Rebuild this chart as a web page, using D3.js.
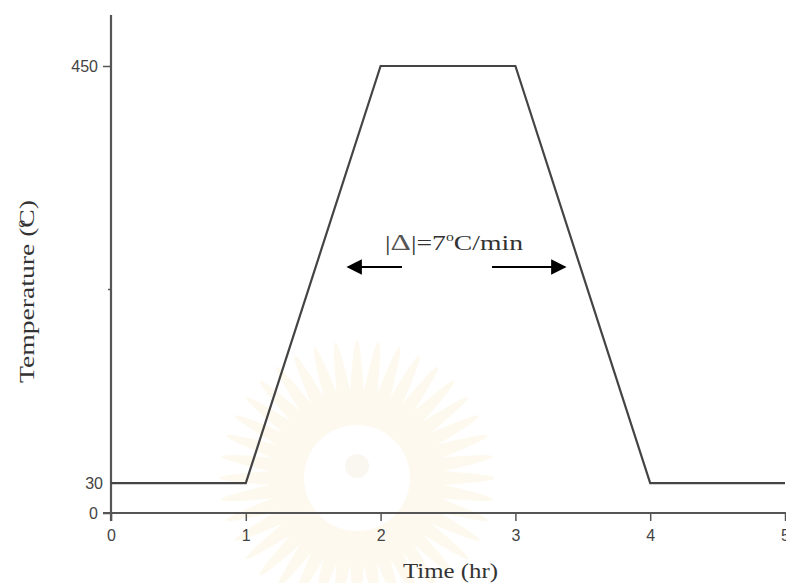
<!DOCTYPE html>
<html>
<head>
<meta charset="utf-8">
<script src="https://cdn.jsdelivr.net/npm/d3@7/dist/d3.min.js"></script>
<style>
  body { margin: 0; background: #fff; }
  svg { display: block; }
</style>
</head>
<body>
<svg id="chart" width="786" height="583"></svg>
<script>
// profile of the heat treatment
const timeHr = [0, 1, 2, 3, 4, 5]
const tempC  = [30, 30, 450, 450, 30, 30]
const xTicks = [0, 1, 2, 3, 4, 5]
const yTickLabels = [0, 30, 450]
const yMinorTicks = [225]

const svg = d3.select("#chart")

// x: 0 -> 111px, 5 -> 785px ; y: 0 -> 513px, 450 -> 66px
const x = d3.scaleLinear().domain([0, 5]).range([111, 785])
const y = d3.scaleLinear().domain([0, 450]).range([513, 66])

// faint watermark behind everything (sunburst)
const wm = svg.append("g").attr("transform", "translate(357,478)")
d3.range(0, 360, 9).forEach(a => {
  wm.append("path")
    .attr("d", "M-9,-50 Q0,-225 9,-50 Z")
    .attr("fill", "#fdf9ee")
    .attr("transform", `rotate(${a})`)
})
wm.append("circle").attr("r", 53).attr("fill", "#fff")
wm.append("circle").attr("cy", -12).attr("r", 12).attr("fill", "#faf7f0")

const axisCol = "#555"
const sans = "Liberation Sans, Arial, sans-serif"
const serif = "Liberation Serif, Times New Roman, serif"

// axes
const xAxis = svg.append("g").attr("transform", `translate(0,${y(0)})`)
  .call(d3.axisBottom(x).tickValues(xTicks).tickSize(8).tickPadding(9).tickFormat(d3.format("d")))
xAxis.select(".domain").attr("d", `M${x(0) - 8},0H786`)

const yAxis = svg.append("g").attr("transform", `translate(${x(0)},0)`)
  .call(d3.axisLeft(y).tickValues(yTickLabels).tickSize(8).tickPadding(5).tickFormat(d3.format("d")))
yAxis.select(".domain").attr("d", `M0,${y(0) + 8}V15`)
yAxis.selectAll(".tick").filter(d => d === 30).select("line").remove()
yAxis.selectAll(".tick").filter(d => d === 30).select("text").attr("x", -8)

yAxis.selectAll(".minor").data(yMinorTicks).join("line")
  .attr("x1", -3).attr("x2", 0).attr("y1", d => y(d)).attr("y2", d => y(d))
  .attr("stroke", axisCol).attr("stroke-width", 1.5)

svg.selectAll(".domain").attr("stroke", axisCol).attr("stroke-width", 2.2)
svg.selectAll(".tick line").attr("stroke", axisCol).attr("stroke-width", 1.5)
svg.selectAll(".tick text")
  .attr("font-family", sans)
  .attr("font-size", 16).attr("fill", "#444")

// profile line
svg.append("path")
  .datum(d3.zip(timeHr, tempC))
  .attr("d", d3.line().x(d => x(d[0])).y(d => y(d[1])))
  .attr("fill", "none").attr("stroke", "#444").attr("stroke-width", 2.2)

// axis titles
svg.append("text")
  .attr("x", 403).attr("y", 578)
  .attr("textLength", 95).attr("lengthAdjust", "spacingAndGlyphs")
  .attr("font-family", serif)
  .attr("font-size", 21).attr("fill", "#333")
  .text("Time (hr)")

const yl = svg.append("text")
  .attr("transform", "translate(34,383) rotate(-90)")
  .attr("textLength", 183).attr("lengthAdjust", "spacingAndGlyphs")
  .attr("font-family", serif)
  .attr("font-size", 21).attr("fill", "#333")
yl.append("tspan").text("Temperature (")
yl.append("tspan").attr("font-size", 12).attr("dy", -9).text("o")
yl.append("tspan").attr("dy", 9).attr("dx", -6).text("C)")

// rate annotation
const ann = svg.append("text")
  .attr("x", 385).attr("y", 250)
  .attr("textLength", 138).attr("lengthAdjust", "spacingAndGlyphs")
  .attr("font-family", serif)
  .attr("font-size", 21).attr("fill", "#333")
ann.append("tspan").text("|")
ann.append("tspan").attr("font-size", 24).attr("fill", "#555").text("Δ")
ann.append("tspan").text("|=7")
ann.append("tspan").attr("font-size", 12).attr("dy", -9).text("o")
ann.append("tspan").attr("dy", 9).text("C/min")

svg.append("defs").append("marker")
  .attr("id", "head").attr("viewBox", "0 0 10 10")
  .attr("refX", 9).attr("refY", 5)
  .attr("markerWidth", 7).attr("markerHeight", 7.5)
  .attr("markerUnits", "strokeWidth").attr("orient", "auto")
  .append("path").attr("d", "M0,0L10,5L0,10Z").attr("fill", "#000")

const arrows = [[402, 348], [492, 565]]
svg.selectAll(".arrow").data(arrows).join("line")
  .attr("x1", d => d[0]).attr("x2", d => d[1])
  .attr("y1", 267).attr("y2", 267)
  .attr("stroke", "#000").attr("stroke-width", 2.2)
  .attr("marker-end", "url(#head)")
</script>
</body>
</html>
